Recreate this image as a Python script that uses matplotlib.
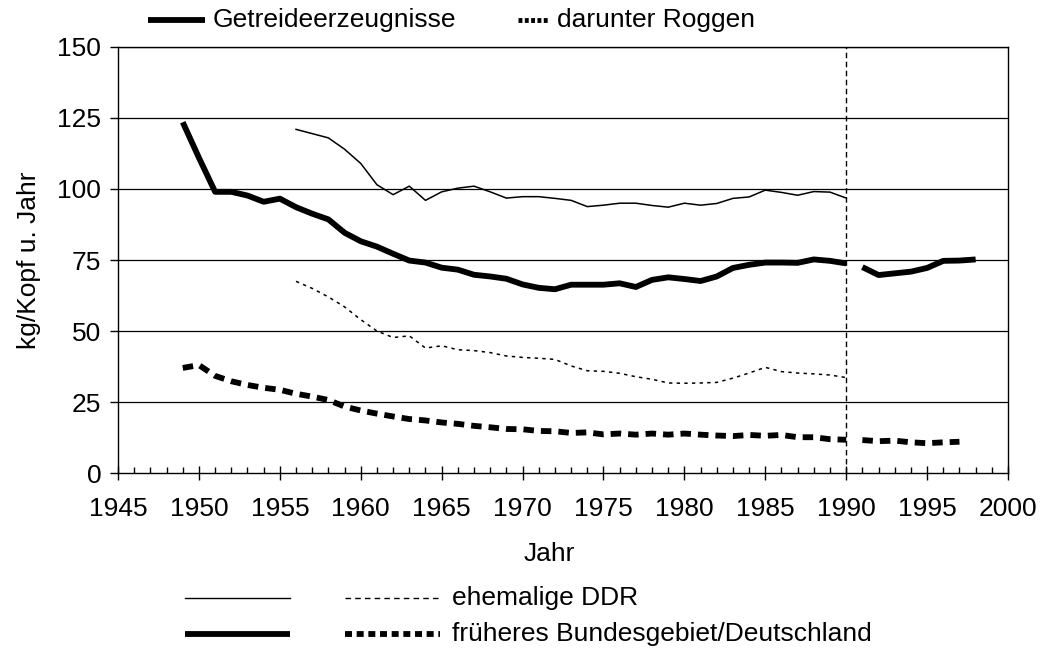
import matplotlib
matplotlib.use("Agg")
import matplotlib.pyplot as plt
from matplotlib.lines import Line2D
from matplotlib.ticker import MultipleLocator

plt.rcParams['font.family'] = ['Liberation Sans', 'DejaVu Sans']
plt.rcParams['font.size'] = 19

# ehemalige DDR
ddr_years = list(range(1956, 1991))
ddr_getreide = [121, 119.5, 118, 114, 109, 101.5, 98, 101, 96, 99, 100.3, 101, 99, 96.8, 97.3,
                97.3, 96.7, 96, 93.8, 94.3, 95, 95, 94.2, 93.6, 95, 94.3, 94.9, 96.7, 97.2, 99.6,
                98.8, 97.8, 99.1, 98.9, 96.8]
ddr_roggen = [67.5, 65, 62, 58.5, 54, 50, 47.7, 48.3, 44, 44.8, 43.4, 43.1, 42.4, 41.2, 40.7,
              40.4, 40, 37.7, 36, 35.8, 35.1, 33.9, 33, 31.7, 31.6, 31.7, 31.9, 33.4, 35.2, 37.2,
              35.7, 35.2, 34.9, 34.5, 33.6]

# frueheres Bundesgebiet (bis 1990)
frg_years = list(range(1949, 1991))
frg_getreide = [123.5, 111, 99, 99, 97.7, 95.5, 96.6, 93.6, 91.3, 89.3, 84.6, 81.6, 79.7, 77.2,
                74.8, 74.1, 72.3, 71.6, 69.8, 69.2, 68.4, 66.4, 65.2, 64.7, 66.3, 66.3, 66.3, 66.8,
                65.5, 68, 68.9, 68.3, 67.6, 69.2, 72.2, 73.3, 74.1, 74.1, 74.0, 75.2, 74.7, 73.8]
frg_roggen = [37, 38, 34.2, 32.3, 31, 30, 29.3, 27.9, 26.9, 25.7, 23.4, 22, 20.9, 19.9, 19, 18.5,
              17.8, 17.3, 16.6, 16.1, 15.5, 15.4, 14.8, 14.7, 14.1, 14.3, 13.6, 13.9, 13.5, 13.9,
              13.5, 13.9, 13.5, 13.2, 13.0, 13.4, 13.1, 13.4, 12.6, 12.6, 11.9, 11.7]

# Deutschland (ab 1991)
de_years_getreide = list(range(1991, 1999))
de_getreide = [72.5, 69.7, 70.3, 70.9, 72.2, 74.7, 74.8, 75.2]
de_years_roggen = list(range(1991, 1998))
de_roggen = [11.6, 11.2, 11.4, 10.8, 10.5, 10.8, 11.0]

y_ticks = [0, 25, 50, 75, 100, 125, 150]
x_ticks = list(range(1945, 2001, 5))

fig = plt.figure(figsize=(10.51, 6.5), dpi=100)
ax = fig.add_axes([0.1123, 0.2723, 0.8468, 0.6554])

for y in y_ticks[1:]:
    ax.axhline(y, color='black', lw=0.9, zorder=1)
ax.axvline(1990, color='black', lw=1.0, dashes=(4, 2.5), zorder=1)

thick = 4.2
ax.plot(frg_years, frg_getreide, color='black', lw=thick, solid_capstyle='butt',
        solid_joinstyle='round', zorder=3)
ax.plot(de_years_getreide, de_getreide, color='black', lw=thick, solid_capstyle='butt',
        solid_joinstyle='round', zorder=3)
ax.plot(frg_years, frg_roggen, color='black', lw=thick, dashes=(1.8, 1.2),
        dash_capstyle='butt', zorder=3)
ax.plot(de_years_roggen, de_roggen, color='black', lw=thick, dashes=(1.8, 1.2),
        dash_capstyle='butt', zorder=3)
ax.plot(ddr_years, ddr_getreide, color='black', lw=1.1, zorder=3)
ax.plot(ddr_years, ddr_roggen, color='black', lw=1.1, dashes=(2.2, 2.8), zorder=3)

ax.set_xlim(1945, 2000)
ax.set_ylim(0, 150)
ax.set_yticks(y_ticks)
ax.set_xticks(x_ticks)
ax.xaxis.set_minor_locator(MultipleLocator(1))
ax.tick_params(axis='y', direction='out', length=6, width=1, pad=6)
ax.tick_params(axis='x', which='major', direction='inout', length=10, width=1, pad=12)
ax.tick_params(axis='x', which='minor', direction='in', length=4.5, width=1)
for s in ax.spines.values():
    s.set_linewidth(1.0)

ax.set_ylabel('kg/Kopf u. Jahr', labelpad=12)
fig.text(549 / 1051, 1 - 554 / 650, 'Jahr', ha='center', va='center')

# obere Legende
ly = 1 - 20 / 650
fig.add_artist(Line2D([148 / 1051, 205 / 1051], [ly, ly], color='black', lw=thick,
                      solid_capstyle='butt'))
fig.text(213 / 1051, ly, 'Getreideerzeugnisse', va='center')
fig.add_artist(Line2D([518 / 1051, 549 / 1051], [ly, ly], color='black', lw=3.5,
                      dashes=(0.8, 0.5), dash_capstyle='butt'))
fig.text(557 / 1051, ly, 'darunter Roggen', va='center')

# untere Legende
r1 = 1 - 598 / 650
r2 = 1 - 634 / 650
fig.add_artist(Line2D([185 / 1051, 290 / 1051], [r1, r1], color='black', lw=1.0))
fig.add_artist(Line2D([345 / 1051, 440 / 1051], [r1, r1], color='black', lw=1.0,
                      dashes=(4, 3)))
fig.text(452 / 1051, r1, 'ehemalige DDR', va='center')
fig.add_artist(Line2D([185 / 1051, 290 / 1051], [r2, r2], color='black', lw=thick,
                      solid_capstyle='butt'))
fig.add_artist(Line2D([345 / 1051, 440 / 1051], [r2, r2], color='black', lw=thick,
                      dashes=(1.2, 0.8), dash_capstyle='butt'))
fig.text(452 / 1051, r2, 'früheres Bundesgebiet/Deutschland', va='center')

fig.savefig('out.png', dpi=100)
